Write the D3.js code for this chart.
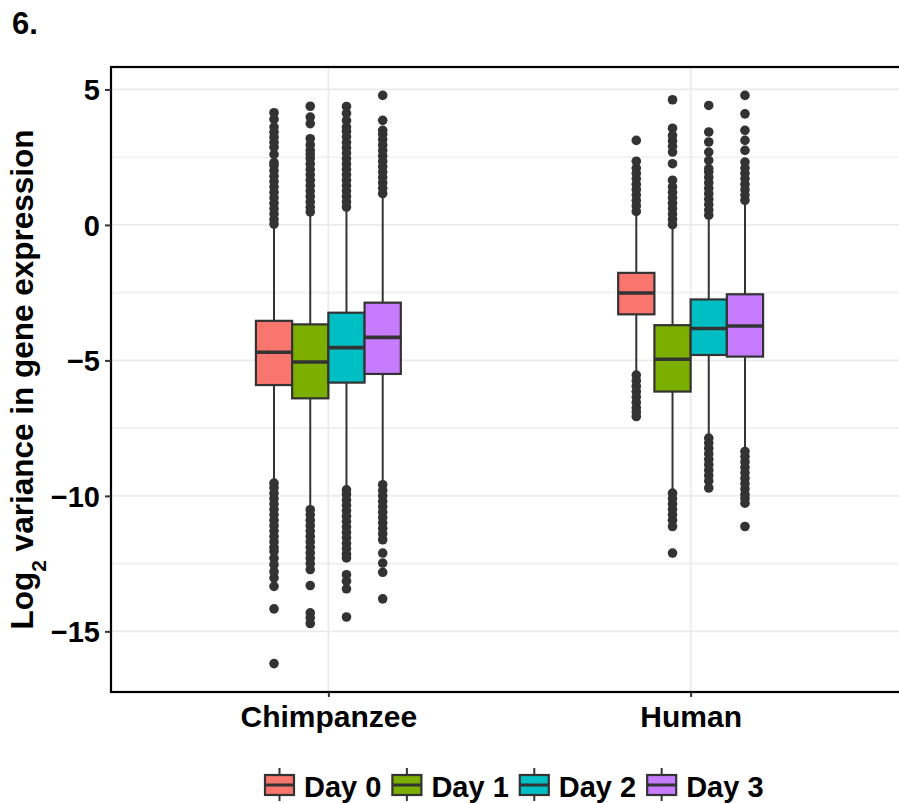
<!DOCTYPE html>
<html>
<head>
<meta charset="utf-8">
<script src="https://cdn.jsdelivr.net/npm/d3@7"></script>
<style>
  html, body { margin: 0; padding: 0; background: #fff; }
  svg { display: block; }
  text { font-family: "Liberation Sans", Arial, Helvetica, sans-serif; font-weight: bold; fill: #000; }
</style>
</head>
<body>
<svg id="chart" width="899" height="803"></svg>
<script>
// Categories and groups
const species = ["Chimpanzee", "Human"];
const days = ["Day 0", "Day 1", "Day 2", "Day 3"];
const dayColors = ["#F8766D", "#7CAE00", "#00BFC4", "#C77CFF"];

// Axis ticks
const yTicks = [5, 0, -5, -10, -15];
const yMinorTicks = [2.5, -2.5, -7.5, -12.5];

// Box summaries, one row per day: [lower whisker, Q1, median, Q3, upper whisker]
const chimpStats = [
  [-9.45, -5.91, -4.70, -3.54, 0.00],
  [-10.45, -6.40, -5.06, -3.67, 0.40],
  [-9.70, -5.82, -4.53, -3.24, 0.60],
  [-9.45, -5.50, -4.15, -2.87, 1.05]
];
const humanStats = [
  [-5.50, -3.30, -2.51, -1.77, 0.45],
  [-9.85, -6.15, -4.96, -3.70, -0.05],
  [-7.80, -4.80, -3.82, -2.75, 0.30],
  [-8.30, -4.86, -3.73, -2.56, 0.85]
];

// Outlying genes beyond the whiskers, one list per day
const chimpOutliers = [
  [0.03, 0.2, 0.4, 0.6, 0.8, 1.0, 1.2, 1.4, 1.6, 1.8, 2.0, 2.2, 2.3, 2.6, 2.87, 3.05, 3.24, 3.42, 3.61, 3.9, 4.14,
   -9.53, -9.7, -9.9, -10.1, -10.3, -10.5, -10.7, -10.9, -11.1, -11.3, -11.5, -11.7, -11.9, -12.05, -12.3, -12.54, -12.8, -13.03, -13.34, -14.17, -16.19],
  [0.48, 0.65, 0.85, 1.05, 1.25, 1.45, 1.65, 1.85, 2.05, 2.25, 2.45, 2.6, 2.75, 2.95, 3.18, 3.74, 3.98, 4.38,
   -10.51, -10.7, -10.9, -11.1, -11.3, -11.5, -11.7, -11.9, -12.1, -12.3, -12.5, -12.72, -13.31, -14.32, -14.5, -14.71],
  [0.66, 0.85, 1.05, 1.25, 1.45, 1.65, 1.85, 2.05, 2.25, 2.45, 2.65, 2.85, 3.05, 3.25, 3.45, 3.61, 3.85, 4.12, 4.37,
   -9.78, -9.95, -10.15, -10.35, -10.55, -10.75, -10.95, -11.15, -11.35, -11.55, -11.75, -11.95, -12.15, -12.29, -12.91, -13.15, -13.43, -14.47],
  [1.16, 1.35, 1.55, 1.75, 1.95, 2.15, 2.35, 2.55, 2.75, 2.95, 3.15, 3.35, 3.49, 3.86, 4.78,
   -9.59, -9.8, -10.0, -10.2, -10.4, -10.6, -10.8, -11.0, -11.2, -11.4, -11.62, -12.11, -12.48, -12.82, -13.8]
];
const humanOutliers = [
  [0.5, 0.7, 0.9, 1.1, 1.3, 1.5, 1.7, 1.9, 2.1, 2.35, 3.12,
   -5.54, -5.75, -5.95, -6.15, -6.35, -6.55, -6.75, -6.9, -7.07],
  [0.01, 0.2, 0.4, 0.6, 0.8, 1.0, 1.2, 1.4, 1.65, 2.26, 2.69, 2.9, 3.1, 3.3, 3.57, 4.62,
   -9.9, -10.1, -10.3, -10.5, -10.7, -10.9, -11.13, -12.11],
  [0.36, 0.55, 0.75, 0.95, 1.15, 1.35, 1.55, 1.75, 1.95, 2.08, 2.38, 2.69, 3.06, 3.43, 4.41,
   -7.87, -8.05, -8.25, -8.45, -8.65, -8.85, -9.05, -9.25, -9.45, -9.71],
  [0.91, 1.1, 1.3, 1.5, 1.7, 1.9, 2.1, 2.32, 2.75, 3.12, 3.49, 4.1, 4.78,
   -8.36, -8.55, -8.75, -8.95, -9.15, -9.35, -9.55, -9.75, -9.95, -10.1, -10.27, -11.13]
];

const statsBySpecies = [chimpStats, humanStats];
const outliersBySpecies = [chimpOutliers, humanOutliers];

const rows = species.flatMap((sp, si) => days.map((day, di) => ({
  species: sp,
  day: day,
  color: dayColors[di],
  stats: statsBySpecies[si][di],
  outliers: outliersBySpecies[si][di]
})));

// Layout
const panel = { left: 111, top: 67, right: 908, bottom: 692 };
const INK = "#333333";

const svg = d3.select("#chart");

// y range: data extent with 5% padding on each side
const allVals = rows.flatMap(r => r.stats.concat(r.outliers));
const [lo, hi] = d3.extent(allVals);
const pad = (hi - lo) * 0.05;
const y = d3.scaleLinear().domain([lo - pad, hi + pad]).range([panel.bottom, panel.top]);

const x = d3.scalePoint().domain(species).range([panel.left, panel.right]).padding(0.6);
const dodge = d3.scaleBand().domain(days).range([-0.2 * x.step(), 0.2 * x.step()]);

// Grid
const grid = svg.append("g");
grid.selectAll(".minor").data(yMinorTicks).join("line")
  .attr("x1", panel.left).attr("x2", panel.right)
  .attr("y1", d => y(d)).attr("y2", d => y(d))
  .attr("stroke", "#EFEFEF").attr("stroke-width", 1.6);
grid.selectAll(".major").data(yTicks).join("line")
  .attr("x1", panel.left).attr("x2", panel.right)
  .attr("y1", d => y(d)).attr("y2", d => y(d))
  .attr("stroke", "#EBEBEB").attr("stroke-width", 1.8);
grid.selectAll(".vert").data(species).join("line")
  .attr("x1", d => x(d)).attr("x2", d => x(d))
  .attr("y1", panel.top).attr("y2", panel.bottom)
  .attr("stroke", "#EBEBEB").attr("stroke-width", 1.8);

// Boxes
const boxes = svg.append("g");
rows.forEach(r => {
  const [wLo, q1, med, q3, wHi] = r.stats;
  const cx = x(r.species) + dodge(r.day) + dodge.bandwidth() / 2;
  const w = dodge.bandwidth();
  const g = boxes.append("g");
  g.append("line").attr("x1", cx).attr("x2", cx).attr("y1", y(q3)).attr("y2", y(wHi))
    .attr("stroke", INK).attr("stroke-width", 2);
  g.append("line").attr("x1", cx).attr("x2", cx).attr("y1", y(q1)).attr("y2", y(wLo))
    .attr("stroke", INK).attr("stroke-width", 2);
  g.append("rect").attr("x", cx - w / 2).attr("width", w)
    .attr("y", y(q3)).attr("height", y(q1) - y(q3))
    .attr("fill", r.color).attr("stroke", INK).attr("stroke-width", 2.2);
  g.append("line").attr("x1", cx - w / 2).attr("x2", cx + w / 2)
    .attr("y1", y(med)).attr("y2", y(med))
    .attr("stroke", INK).attr("stroke-width", 3.6);
  g.selectAll("circle").data(r.outliers).join("circle")
    .attr("cx", cx).attr("cy", d => y(d)).attr("r", 4.8).attr("fill", INK);
});

// Panel frame (the right edge falls outside the canvas)
svg.append("rect")
  .attr("x", panel.left).attr("y", panel.top)
  .attr("width", panel.right - panel.left).attr("height", panel.bottom - panel.top)
  .attr("fill", "none").attr("stroke", "#000").attr("stroke-width", 2.2);

// Axes
const yAxis = svg.append("g").attr("transform", `translate(${panel.left},0)`)
  .call(d3.axisLeft(y).tickValues(yTicks).tickSize(6).tickFormat(d3.format("d")));
yAxis.select(".domain").remove();
yAxis.selectAll(".tick line").attr("stroke", INK).attr("stroke-width", 2);
yAxis.selectAll(".tick text")
  .attr("x", -11).attr("dy", null).attr("y", 10.5)
  .attr("font-size", 29).attr("font-family", null).attr("fill", "#000");

const xAxis = svg.append("g").attr("transform", `translate(0,${panel.bottom})`)
  .call(d3.axisBottom(x).tickSize(5));
xAxis.select(".domain").remove();
xAxis.selectAll(".tick line").attr("stroke", INK).attr("stroke-width", 2);
xAxis.selectAll(".tick text")
  .attr("y", 35).attr("dy", null)
  .attr("font-size", 30).attr("font-family", null).attr("fill", "#000");

// y-axis title
const yTitle = svg.append("text")
  .attr("transform", `translate(33,${(panel.top + panel.bottom) / 2}) rotate(-90)`)
  .attr("text-anchor", "middle")
  .attr("font-size", 31.5);
yTitle.append("tspan").text("Log");
yTitle.append("tspan").attr("dy", 13).attr("font-size", 21).text("2");
yTitle.append("tspan").attr("dy", -13).text(" variance in gene expression");

// Panel label
svg.append("text")
  .attr("transform", "translate(12,34)")
  .attr("font-size", 31)
  .text("6.");

// Legend
const legend = svg.append("g");
const keyW = 29, keyTop = 775, keyBot = 795, legendBase = 797;
let lx = 265;
days.forEach((day, i) => {
  const kc = lx + keyW / 2;
  legend.append("line").attr("x1", kc).attr("x2", kc).attr("y1", keyTop - 7).attr("y2", keyBot + 6)
    .attr("stroke", INK).attr("stroke-width", 2);
  legend.append("rect").attr("x", lx).attr("y", keyTop).attr("width", keyW).attr("height", keyBot - keyTop)
    .attr("fill", dayColors[i]).attr("stroke", INK).attr("stroke-width", 2.2);
  legend.append("line").attr("x1", lx).attr("x2", lx + keyW)
    .attr("y1", (keyTop + keyBot) / 2).attr("y2", (keyTop + keyBot) / 2)
    .attr("stroke", INK).attr("stroke-width", 3);
  const tx = lx + keyW + 10;
  const t = legend.append("text")
    .attr("transform", `translate(${tx},${legendBase})`)
    .attr("font-size", 29)
    .text(day);
  const tw = t.node().getComputedTextLength();
  lx = tx + tw + 11;
});
</script>
</body>
</html>
